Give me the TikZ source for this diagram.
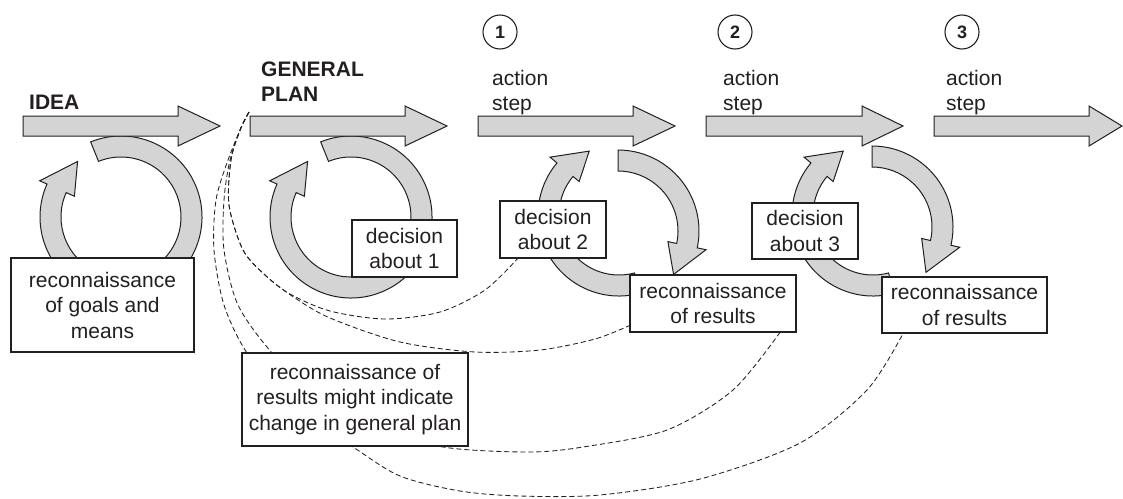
\documentclass[tikz,border=0pt]{standalone}
\usepackage{fontspec}
\setmainfont{Liberation Sans}
\usetikzlibrary{calc}
\definecolor{ink}{RGB}{35,31,32}
\definecolor{arrowfill}{RGB}{212,212,212}
\pgfdeclarelayer{back}
\pgfdeclarelayer{mid}
\pgfsetlayers{back,mid,main}
\newcommand\ringarr[9]{%
  \path[ring] ({#1+#4*cos(#5)},{#2+#4*sin(#5)}) arc[start angle=#5,end angle=#6,radius=#4]
   -- ({#1+#9*cos(#6)},{#2+#9*sin(#6)})
   -- ({#1+(#3+#4)/2*cos(#7)},{#2+(#3+#4)/2*sin(#7)})
   -- ({#1+#8*cos(#6)},{#2+#8*sin(#6)})
   -- ({#1+#3*cos(#6)},{#2+#3*sin(#6)})
   arc[start angle=#6,end angle=#5,radius=#3] -- cycle;}
\newcommand\bigarr[3]{\path[bigarrow] (#1,116) -- (#2,116) -- (#2,106) -- (#3,126) -- (#2,146) -- (#2,136) -- (#1,136) -- cycle;}
\begin{document}
\begin{tikzpicture}[x=1pt,y=1pt,yscale=-1,
  bigarrow/.style={draw=ink, fill=arrowfill, line width=1pt, line join=miter},
  ring/.style={draw=ink, fill=arrowfill, line width=1pt, line join=miter},
  box/.style={draw=ink, fill=white, line width=1.1pt, inner sep=0pt, align=center, text=ink, font=\fontsize{21}{25.5}\selectfont},
  lbl/.style={inner sep=0pt, align=left, text=ink, font=\fontsize{21}{25}\selectfont},
  numc/.style={draw=ink, circle, line width=1.1pt, minimum size=34pt, inner sep=0pt, text=ink, font=\fontsize{18}{20}\selectfont\bfseries},
  feedback/.style={draw=ink, line width=0.85pt, dash pattern=on 5pt off 3pt},
]
\useasboundingbox (0,0) rectangle (1123,498);

% ---------- big horizontal arrows
\bigarr{23}{178}{220}
\bigarr{250}{405}{447}
\bigarr{478}{633}{675}
\bigarr{706}{862}{903}
\bigarr{934}{1089}{1122}

% ---------- labels
\node[lbl, font=\fontsize{21}{25}\selectfont\bfseries, anchor=base west] (idea) at (29,109) {IDEA};
\node[lbl, font=\fontsize{21}{25}\selectfont\bfseries, anchor=north west] (plan) at (261,61.5) {GENERAL\\PLAN};
\node[lbl, anchor=north west] (act1) at (492,70) {action\\step};
\node[lbl, anchor=north west] (act2) at (723,70) {action\\step};
\node[lbl, anchor=north west] (act3) at (946,70) {action\\step};
\node[numc] (n1) at (500,32) {1};
\node[numc] (n2) at (735,32) {2};
\node[numc] (n3) at (962,32) {3};

% ---------- boxes
\node[box, minimum width=183pt, minimum height=94pt] (goals) at (102.5,305) {reconnaissance\\of goals and\\means};
\node[box, minimum width=105pt, minimum height=57pt] (dec1) at (404.5,248.5) {decision\\about 1};
\node[box, minimum width=106pt, minimum height=57pt] (dec2) at (553,229.5) {decision\\about 2};
\node[box, minimum width=106pt, minimum height=56pt] (dec3) at (805,231) {decision\\about 3};
\node[box, minimum width=166pt, minimum height=57pt] (res1) at (713,303.5) {reconnaissance\\of results};
\node[box, minimum width=165pt, minimum height=56pt] (res2) at (964.5,305) {reconnaissance\\of results};
\node[box, minimum width=226pt, minimum height=93pt] (change) at (355,399.5) {reconnaissance of\\results might indicate\\change in general plan};

% ---------- circular arrows (under the boxes)
\begin{pgfonlayer}{mid}
\ringarr{121}{217}{60}{81}{-112}{204}{232}{51}{89}
\ringarr{351}{217}{60}{81}{-112}{204}{232}{51}{89}
\ringarr{618}{231}{60}{81}{-90}{12}{38}{51}{90}
\ringarr{619}{215}{60}{81}{75}{220}{245}{52}{90}
\ringarr{872}{227}{60}{81}{-90}{13}{40}{51}{90}
\ringarr{873}{215}{60}{81}{75}{220}{245}{52}{90}
\end{pgfonlayer}

% ---------- dashed feedback curves (under everything)
\coordinate (conv) at (249,112);
\begin{pgfonlayer}{back}
\draw[feedback] plot[smooth] coordinates {(conv) (240,130) (231,160) (229,205) (243,250) (265,275) (290,294) (330,311) (385,319) (440,312) (485,290) ($(dec2.south west)!0.17!(dec2.south east)$)};
\draw[feedback] plot[smooth] coordinates {(conv) (240,130) (231,160) (229,205) (243,250) (265,275) (292,296) (330,318) (400,342) (475,352) (540,350) (595,339) ($(res1.south west)!0.12!(res1.north west)$)};
\draw[feedback] plot[smooth] coordinates {(conv) (241,128) (230,160) (224,200) (224,250) (238,305) (272,353) (320,400) (380,432) (450,448) (530,452) (583,447) (667,430) (733,390) ($(res1.south west)!0.9!(res1.south east)$)};
\draw[feedback] plot[smooth] coordinates {(conv) (241,128) (228,160) (216,200) (214,250) (224,305) (247,353) (290,405) (353,447) (400,476) (460,491) (520,496) (600,495) (700,479) (800,443) (867,390) ($(res2.south west)!0.13!(res2.south east)$)};
\end{pgfonlayer}
\end{tikzpicture}
\end{document}
